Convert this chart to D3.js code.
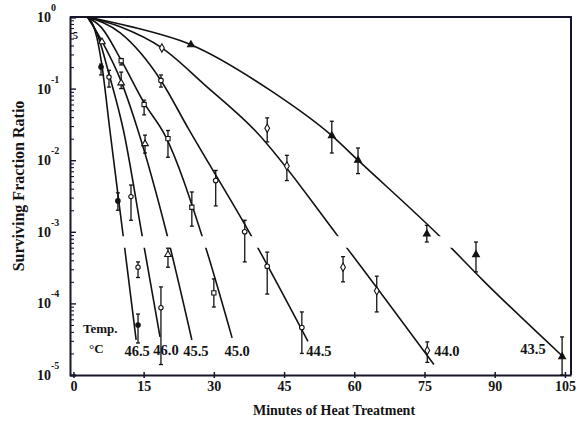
<!DOCTYPE html>
<html>
<head>
<meta charset="utf-8">
<script src="https://cdn.jsdelivr.net/npm/d3@7"></script>
<style>
  body { margin: 0; background: #fff; }
  text { font-family: "Liberation Serif", "Times New Roman", serif; font-weight: bold; fill: #141414; }
</style>
</head>
<body>
<svg width="582" height="423"></svg>
<script>
// temperatures (deg C)
const temps = ["46.5", "46.0", "45.5", "45.0", "44.5", "44.0", "43.5"];

// fitted survival curves: [minutes, surviving fraction]
const curve465 = [[3, 1], [4, 0.83], [5, 0.52], [6, 0.23], [7.8, 0.026], [10.6, 9.1e-4], [13.4, 3.1e-5]];
const curve460 = [[3, 1], [5, 0.6], [7.6, 0.16], [10.7, 0.026], [14.6, 9.5e-4], [18.5, 3.4e-5]];
const curve455 = [[3, 1], [6, 0.47], [10.2, 0.126], [13.8, 0.026], [20, 9.1e-4], [25.3, 3.1e-5]];
const curve450 = [[3, 1], [6, 0.71], [10.2, 0.25], [15.1, 0.063], [19.6, 0.022], [27.5, 8.7e-4], [33.9, 3.3e-5]];
const curve445 = [[3, 1], [10, 0.6], [18.7, 0.13], [24.5, 0.028], [37.7, 9.5e-4], [50.1, 2.95e-5]];
const curve440 = [[3, 1], [10, 0.73], [18.9, 0.37], [28.1, 0.112], [38.8, 0.026], [56.5, 8.7e-4], [77, 1.4e-5]];
const curve435 = [[3, 1], [12, 0.74], [25.1, 0.41], [42, 0.095], [55.2, 0.022], [60.8, 0.010], [78.7, 8.1e-4], [87.5, 2.1e-4], [104.6, 1.8e-5]];

// measured points: [minutes, fraction, low, high]
const pts465 = [[5.9, 0.20, 0.155, 0.22], [9.5, 2.7e-3, 2.0e-3, 3.5e-3], [13.8, 5.0e-5, 2.8e-5, 7.1e-5]];
const pts460 = [[7.6, 0.145, 0.105, 0.18], [12.3, 3.1e-3, 1.45e-3, 4.5e-3], [13.8, 3.2e-4, 2.3e-4, 3.8e-4], [18.7, 8.7e-5, 1.4e-5, 1.7e-4]];
const pts455 = [[6.1, 0.45, 0.45, 0.45], [10.2, 0.12, 0.10, 0.17], [15.3, 0.017, 0.0126, 0.0224], [20.2, 4.8e-4, 3.2e-4, 5.9e-4]];
const pts450 = [[10.2, 0.245, 0.214, 0.263], [15.1, 0.060, 0.043, 0.069], [20.2, 0.020, 0.011, 0.026], [25.3, 2.2e-3, 1.2e-3, 3.6e-3], [30, 1.4e-4, 8.9e-5, 2.2e-4]];
const pts445 = [[18.7, 0.13, 0.105, 0.155], [30.4, 5.2e-3, 2.3e-3, 7.2e-3], [36.6, 1.0e-3, 3.8e-4, 1.45e-3], [41.4, 3.3e-4, 1.35e-4, 5.2e-4], [48.8, 4.6e-5, 2.0e-5, 7.6e-5]];
const pts440 = [[18.9, 0.37, 0.37, 0.37], [41.4, 0.028, 0.018, 0.039], [45.6, 8.3e-3, 5.2e-3, 0.0117], [57.6, 3.2e-4, 2.0e-4, 4.5e-4], [64.8, 1.5e-4, 7.6e-5, 2.4e-4], [75.6, 2.2e-5, 1.5e-5, 2.9e-5]];
const pts435 = [[25.1, 0.41, 0.41, 0.41], [55.2, 0.022, 0.0126, 0.035], [60.8, 0.010, 6.5e-3, 0.0148], [75.5, 9.3e-4, 7.2e-4, 1.23e-3], [86, 4.8e-4, 2.75e-4, 7.2e-4], [104.4, 1.8e-5, 1e-5, 3.4e-5]];

// axis ticks
const xTicks = [0, 15, 30, 45, 60, 75, 90, 105];
const yExps = [0, -1, -2, -3, -4, -5];

// band where the printed curves are interrupted
const gapTop = 8.7e-4, gapBottom = 6.0e-4;

const svg = d3.select("svg");
const mLeft = 70, mRight = 571, mTop = 17, mBottom = 375;
const ink = "#16162a";

const x = d3.scaleLinear().domain([-0.73, 106.3]).range([mLeft, mRight]);
const y = d3.scaleLog().domain([1, 1e-5]).range([mTop, mBottom]);

// clip that leaves the gap band empty
const clip = svg.append("defs").append("clipPath").attr("id", "gap");
clip.append("rect").attr("x", 0).attr("y", 0).attr("width", 582).attr("height", y(gapTop));
clip.append("rect").attr("x", 0).attr("y", y(gapBottom)).attr("width", 582).attr("height", 423 - y(gapBottom));

const series = [
  {temp: temps[0], curve: curve465, pts: pts465, sym: d3.symbolCircle, size: 16, filled: true, ldx: 1, ldy: 16},
  {temp: temps[1], curve: curve460, pts: pts460, sym: d3.symbolCircle, size: 15, filled: false, ldx: 6, ldy: 18},
  {temp: temps[2], curve: curve455, pts: pts455, sym: d3.symbolTriangle, size: 19, filled: false, ldx: 4, ldy: 16},
  {temp: temps[3], curve: curve450, pts: pts450, sym: d3.symbolSquare, size: 18, filled: false, ldx: 5, ldy: 18},
  {temp: temps[4], curve: curve445, pts: pts445, sym: d3.symbolCircle, size: 17, filled: false, ldx: 11, ldy: 15},
  {temp: temps[5], curve: curve440, pts: pts440, sym: d3.symbolDiamond, size: 20, filled: false, ldx: 13, ldy: -9},
  {temp: temps[6], curve: curve435, pts: pts435, sym: d3.symbolTriangle, size: 20, filled: true, ldx: -30, ldy: -3}
];

// frame
svg.append("path")
  .attr("d", `M${mLeft},${mTop}H${mRight}V${mBottom}`)
  .attr("fill", "none").attr("stroke", ink).attr("stroke-width", 2);

// x axis
const gX = svg.append("g")
  .attr("transform", `translate(0,${mBottom})`)
  .call(d3.axisBottom(x).tickValues(xTicks).tickSizeInner(3).tickSizeOuter(0).tickPadding(3));
gX.select(".domain").attr("stroke", ink).attr("stroke-width", 2);
gX.selectAll(".tick line").attr("y1", -3).attr("y2", 3).attr("stroke", ink).attr("stroke-width", 1.5);
gX.selectAll(".tick text").attr("font-size", 14).attr("font-family", null).attr("fill", null);

// y axis: decade ticks plus minor ticks, pointing inward
const minor = [];
yExps.slice(1).forEach(e => { for (let m = 2; m <= 9; m++) minor.push(m * Math.pow(10, e)); });
const gY = svg.append("g")
  .attr("transform", `translate(${mLeft},0)`)
  .call(d3.axisLeft(y).tickValues(yExps.map(e => Math.pow(10, e))).tickSize(-6).tickFormat(""));
gY.select(".domain").attr("stroke", ink).attr("stroke-width", 2);
gY.selectAll(".tick line").attr("stroke", ink).attr("stroke-width", 1.4);
const gYm = svg.append("g")
  .attr("transform", `translate(${mLeft},0)`)
  .call(d3.axisLeft(y).tickValues(minor).tickSize(-4).tickFormat(""));
gYm.select(".domain").remove();
gYm.selectAll(".tick line").attr("stroke", ink).attr("stroke-width", 1.1);

// y tick labels as 10 with superscript
const yLab = svg.append("g").selectAll("text").data(yExps).join("text")
  .attr("x", 37).attr("y", d => y(Math.pow(10, d)) + 5)
  .attr("font-size", 14);
yLab.append("tspan").text("10");
yLab.append("tspan").attr("dy", -11).attr("font-size", 10).text(d => d);

svg.append("text").attr("x", 73).attr("y", y(0.5)).attr("font-size", 10).text("5");

// axis titles
svg.append("text")
  .attr("x", 334).attr("y", 415).attr("text-anchor", "middle").attr("font-size", 14)
  .text("Minutes of Heat Treatment");
svg.append("text")
  .attr("transform", "translate(24,186) rotate(-90)").attr("text-anchor", "middle").attr("font-size", 16)
  .text("Surviving Fraction Ratio");

// curves
const line = d3.line().x(d => x(d[0])).y(d => y(d[1])).curve(d3.curveMonotoneX);
svg.append("g").attr("clip-path", "url(#gap)")
  .selectAll("path").data(series).join("path")
  .attr("d", d => line(d.curve))
  .attr("fill", "none").attr("stroke", "#121212").attr("stroke-width", 1.6);

// error bars and markers
series.forEach(s => {
  const g = svg.append("g");
  const bars = s.pts.filter(p => p[2] < p[3]);
  g.selectAll("line.bar").data(bars).join("line")
    .attr("class", "bar")
    .attr("x1", p => x(p[0])).attr("x2", p => x(p[0]))
    .attr("y1", p => y(p[2])).attr("y2", p => y(p[3]))
    .attr("stroke", "#121212").attr("stroke-width", 1.3);
  ["lo", "hi"].forEach((k, i) => {
    g.selectAll("line.cap" + k).data(bars).join("line")
      .attr("class", "cap" + k)
      .attr("x1", p => x(p[0]) - 2).attr("x2", p => x(p[0]) + 2)
      .attr("y1", p => y(p[2 + i])).attr("y2", p => y(p[2 + i]))
      .attr("stroke", "#121212").attr("stroke-width", 1.3);
  });
  g.selectAll("path.mark").data(s.pts).join("path")
    .attr("class", "mark")
    .attr("transform", p => `translate(${x(p[0])},${y(p[1])})`)
    .attr("d", d3.symbol(s.sym, s.size))
    .attr("fill", s.filled ? "#121212" : "#fff")
    .attr("stroke", "#121212").attr("stroke-width", 1.1);
  const end = s.curve[s.curve.length - 1];
  svg.append("text")
    .attr("x", x(end[0]) + s.ldx).attr("y", y(end[1]) + s.ldy)
    .attr("text-anchor", "middle").attr("font-size", 14.5)
    .text(s.temp);
});

// legend heading
svg.append("text").attr("x", 83).attr("y", 333).attr("font-size", 13).text("Temp.");
svg.append("text").attr("x", 89).attr("y", 353).attr("font-size", 13).text("°C");
</script>
</body>
</html>
